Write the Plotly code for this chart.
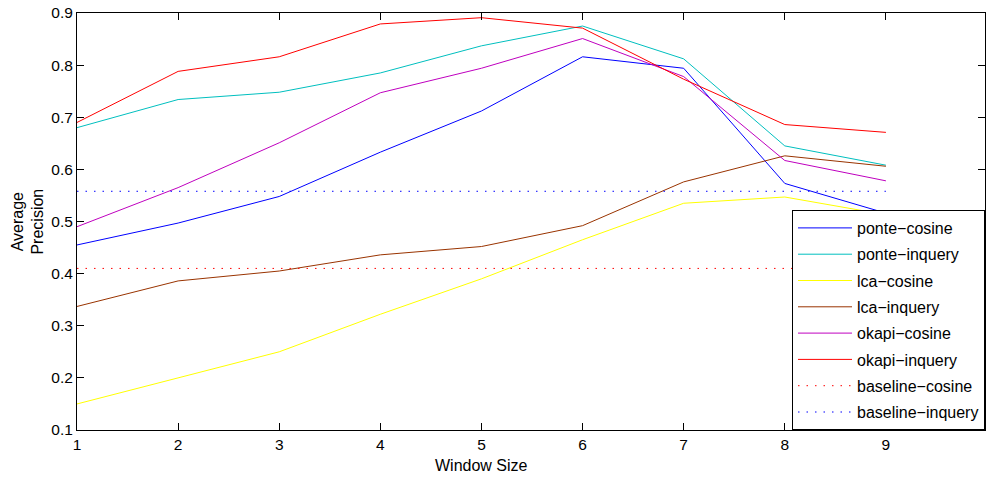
import plotly.graph_objects as go

window_sizes = [1, 2, 3, 4, 5, 6, 7, 8, 9]
ponte_cosine = [0.455, 0.497, 0.548, 0.633, 0.712, 0.816, 0.794, 0.573, 0.516]
ponte_inquery = [0.680, 0.734, 0.748, 0.785, 0.837, 0.875, 0.812, 0.645, 0.608]
lca_cosine = [0.150, 0.200, 0.250, 0.322, 0.390, 0.465, 0.535, 0.547, 0.513]
lca_inquery = [0.337, 0.386, 0.405, 0.436, 0.452, 0.492, 0.576, 0.626, 0.606]
okapi_cosine = [0.490, 0.565, 0.651, 0.747, 0.794, 0.851, 0.778, 0.617, 0.578]
okapi_inquery = [0.690, 0.788, 0.816, 0.879, 0.891, 0.871, 0.773, 0.686, 0.671]
baseline_cosine = [0.41] * 9
baseline_inquery = [0.558] * 9

series = [
    ("ponte\u2212cosine", ponte_cosine, "#0000ff", "solid"),
    ("ponte\u2212inquery", ponte_inquery, "#00bfbf", "solid"),
    ("lca\u2212cosine", lca_cosine, "#ffff00", "solid"),
    ("lca\u2212inquery", lca_inquery, "#993300", "solid"),
    ("okapi\u2212cosine", okapi_cosine, "#bf00bf", "solid"),
    ("okapi\u2212inquery", okapi_inquery, "#ff0000", "solid"),
    ("baseline\u2212cosine", baseline_cosine, "#ff0000", "1.5px,7px"),
    ("baseline\u2212inquery", baseline_inquery, "#0000ff", "1.5px,7px"),
]

FONT = "Liberation Sans, Arial, Helvetica, sans-serif"

fig = go.Figure()
for i, (name, vals, color, dash) in enumerate(series):
    fig.add_trace(go.Scatter(
        x=window_sizes, y=vals, mode="lines", name=name,
        legendgroup=f"g{i}",
        line=dict(color=color, width=1, dash=dash),
    ))

fig.update_layout(
    width=986, height=480,
    margin=dict(l=77, r=1, t=13, b=50),
    paper_bgcolor="white", plot_bgcolor="white",
    font=dict(family=FONT, size=16, color="black"),
    showlegend=True,
    legend=dict(
        x=1, xanchor="right", y=0, yanchor="bottom",
        bordercolor="black", borderwidth=1, bgcolor="white",
        font=dict(family=FONT, size=16, color="black"),
        tracegroupgap=2.5, itemwidth=54,
    ),
    xaxis=dict(
        range=[1, 9.98], tickvals=window_sizes, ticktext=[str(v) for v in window_sizes],
        ticks="inside", ticklen=7, tickcolor="black", mirror="ticks",
        showline=True, linecolor="black", linewidth=1, showgrid=False, zeroline=False,
        tickfont=dict(size=15.5),
    ),
    yaxis=dict(
        range=[0.1, 0.9], tickvals=[0.1, 0.2, 0.3, 0.4, 0.5, 0.6, 0.7, 0.8, 0.9],
        ticktext=["0.1", "0.2", "0.3", "0.4", "0.5", "0.6", "0.7", "0.8", "0.9"],
        ticks="inside", ticklen=7, tickcolor="black", mirror="ticks",
        showline=True, linecolor="black", linewidth=1, showgrid=False, zeroline=False,
        tickfont=dict(size=15.5),
    ),
    annotations=[
        dict(text="Window Size", x=5, xref="x", y=-0.085, yref="paper",
             xanchor="center", yanchor="middle", showarrow=False,
             font=dict(size=16)),
        dict(text="Average<br>Precision", x=-0.055, xref="paper", y=0.5, yref="paper",
             xanchor="center", yanchor="middle", showarrow=False, textangle=-90,
             font=dict(size=16)),
    ],
)

fig.write_html("out.html", config={"displayModeBar": False},
               post_script="document.body.style.margin='0';")
